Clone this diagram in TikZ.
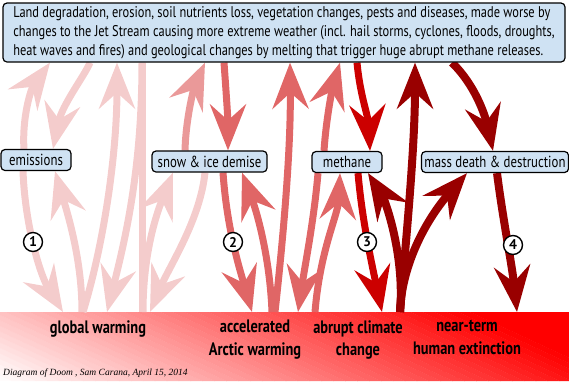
\documentclass[tikz,border=0pt]{standalone}
\usepackage{fontspec}
\setmainfont{PT Sans}
\newfontfamily\cond[FakeStretch=0.8]{PT Sans}
\newfontfamily\footfont{Liberation Serif}
\usetikzlibrary{arrows.meta,backgrounds}
\definecolor{cA}{HTML}{F4CCCC}
\definecolor{cB}{HTML}{EA9999}
\definecolor{cC}{HTML}{E06666}
\definecolor{cD}{HTML}{CC0000}
\definecolor{cE}{HTML}{990000}
\definecolor{boxblue}{HTML}{CFE2F3}
\tikzset{
  box/.style={draw=black, line width=1.2pt, fill=boxblue, rounded corners=4pt,
    inner xsep=3pt, inner ysep=2pt, minimum height=21pt,
    font=\cond\fontsize{16}{19}\selectfont},
  blab/.style={align=center, inner ysep=8pt, inner xsep=0pt,
    font=\cond\bfseries\fontsize{18}{22.5}\selectfont},
  num/.style={circle, draw=black, line width=1.4pt, fill=white, inner sep=0pt,
    minimum size=19pt, font=\bfseries\fontsize{14}{14}\selectfont},
  arr/.style={line width=7pt, -{Stealth[length=46pt,width=36pt,inset=16pt]}},
  aA/.style={arr, draw=cA},
  lA/.style={line width=7pt, draw=cA},
  aB/.style={arr, draw=cB},
  aC/.style={arr, draw=cC},
  aD/.style={arr, draw=cD},
  aE/.style={arr, draw=cE, line width=8pt},
}
\begin{document}
\begin{tikzpicture}[x=1pt,y=-1pt]
\useasboundingbox (0,0) rectangle (569,381);

% nodes
\node[box, minimum width=562pt, minimum height=59pt, align=left, font=\cond\fontsize{15.5}{19}\selectfont] (top) at (284,32.5)
 {Land degradation, erosion, soil nutrients loss, vegetation changes, pests and diseases, made worse by\\
  changes to the Jet Stream causing more extreme weather (incl. hail storms, cyclones, floods, droughts,\\
  heat waves and fires) and geological changes by melting that trigger huge abrupt methane releases.};
\node[box, minimum width=70pt] (emis) at (36,160) {emissions};
\node[box, minimum width=115pt] (snow) at (209.5,161.5) {snow \& ice demise};
\node[box, minimum width=70pt] (meth) at (347,162) {methane};
\node[box, minimum width=146pt] (mass) at (495,162) {mass death \& destruction};

\node[blab, anchor=north] (gw) at (98,312) {global warming};
\node[blab, anchor=north] (aaw) at (255,312) {accelerated\\Arctic warming};
\node[blab, anchor=north] (acc) at (358,312) {abrupt climate\\change};
\node[blab, anchor=north] (nte) at (467,312) {near-term\\human extinction};
\node[anchor=base west, inner sep=0pt, font=\footfont\itshape\fontsize{9.5}{12}\selectfont] (foot) at (3,375)
 {Diagram of Doom , Sam Carana, April 15, 2014};

\begin{pgfonlayer}{background}
% gradient band
\begin{scope}
\clip (0,312) rectangle (569,381);
\fill[white] (0,312) rectangle (569,381);
\foreach \i in {0,...,51}{
  \pgfmathsetmacro\xa{\i*11.905}
  \pgfmathsetmacro\pc{(\i+0.5)*100/52}
  \fill[red!\pc!white] (\xa,381) -- ++(12.5,0) -- ++(-149.5,-69) -- ++(-12.5,0) -- cycle;
}
\fill[red] (619,381) -- (900,381) -- (900,312) -- (469.5,312) -- cycle;
\end{scope}

% group 1
\draw[aA] (emis.north -| 24,0) .. controls (22,120) and (30,90) .. (top.south -| 50,0);
\draw[aA] (emis.south -| 23,0) .. controls (25,225) and (40,275) .. (gw.north -| 63,0);
\draw[aA] (top.south -| 90,0) .. controls (85,75) and (62,105) .. (emis.north -| 53,0);
\draw[aA] (gw.north -| 82,0) .. controls (82,260) and (68,215) .. (emis.south -| 55,0);
\draw[aA] (gw.north -| 83,0) .. controls (105,240) and (117,150) .. (top.south -| 117,0);
\draw[aA] (top.south -| 142,0) .. controls (142,170) and (125,240) .. (gw.north -| 107,0);
\draw[lA] (top.south -| 142,0) -- (gw.north -| 142,0);
\draw[aA] (gw.north -| 143,0) .. controls (143,250) and (158,210) .. (snow.south -| 173,0);
\draw[aA] (snow.south -| 205,0) .. controls (200,220) and (170,265) .. (gw.north -| 150,0);
\draw[aB] (snow.north -| 185,0) .. controls (186,115) and (195,85) .. (top.south -| 205,0);

% group 2
\draw[aC] (top.south -| 224,0) .. controls (226,90) and (228,120) .. (snow.north -| 228,0);
\draw[aC] (snow.south -| 223,0) .. controls (227,230) and (240,270) .. (aaw.north -| 252,0);
\draw[aC] (aaw.north -| 272,0) .. controls (270,260) and (258,215) .. (snow.south -| 242,0);
\draw[aC] (aaw.north -| 275,0) .. controls (283,240) and (291,150) .. (top.south -| 290,0);
\draw[aC] (meth.north -| 324,0) .. controls (326,120) and (332,90) .. (top.south -| 340,0);
\draw[aC] (meth.south -| 318,0) .. controls (314,220) and (305,265) .. (aaw.north -| 298,0);
\draw[aC] (aaw.north -| 315,0) .. controls (320,250) and (338,215) .. (meth.south -| 340,0);

% group 3
\draw[aD] (top.south -| 357,0) .. controls (360,95) and (368,115) .. (meth.north -| 370,0);
\draw[aD] (meth.south -| 358,0) .. controls (362,220) and (372,265) .. (acc.north -| 382,0);

% group 4
\draw[aE] (acc.north -| 400,0) .. controls (405,255) and (385,200) .. (meth.south -| 368,0);
\draw[aE] (acc.north -| 400,0) .. controls (405,250) and (415,150) .. (top.south -| 415,0);
\draw[aE] (acc.north -| 400,0) .. controls (402,260) and (430,215) .. (mass.south -| 467,0);
\draw[aE] (top.south -| 452,0) .. controls (475,85) and (485,115) .. (mass.north -| 493,0);
\draw[aE] (mass.south -| 497,0) .. controls (503,220) and (512,265) .. (nte.north -| 517,0);
\end{pgfonlayer}

% numbers
\node[num] (n1) at (33,242) {1};
\node[num] (n2) at (233,242) {2};
\node[num] (n3) at (367,242) {3};
\node[num] (n4) at (513,245) {4};
\end{tikzpicture}
\end{document}
